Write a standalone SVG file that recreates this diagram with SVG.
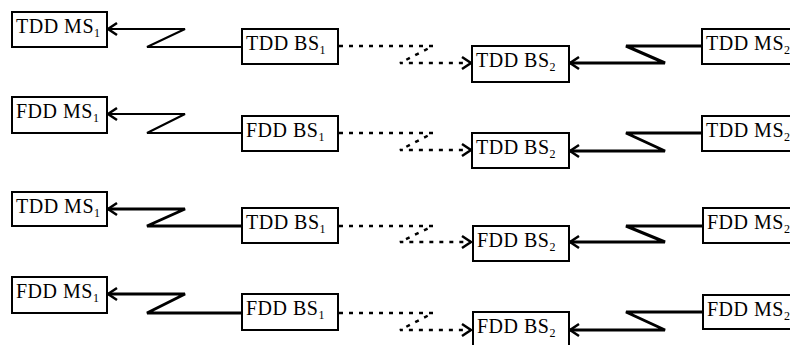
<svg xmlns="http://www.w3.org/2000/svg" width="790" height="345" viewBox="0 0 790 345">
<defs>
<marker id="arr" markerUnits="userSpaceOnUse" viewBox="-12 -8 14 16" refX="0" refY="0" markerWidth="14" markerHeight="16" orient="auto" overflow="visible">
<path d="M-9,-6 L0,0 L-9,6" fill="none" stroke="#000" stroke-width="2.5"/>
</marker>
</defs>
<style>
.box{fill:#fff;stroke:#000;stroke-width:2}
.t{font-family:"Liberation Serif","Times New Roman",serif;font-size:20px;letter-spacing:0.5px;fill:#000}
.s{font-size:12px}
.thin{fill:none;stroke:#000;stroke-width:2;marker-end:url(#arr)}
.thick{fill:none;stroke:#000;stroke-width:3;marker-end:url(#arr)}
.dot{fill:none;stroke:#000;stroke-width:2.5;stroke-dasharray:4 6;marker-end:url(#arr)}
</style>
<g id="connectors">
<path class="thin" d="M242,47 L147,47 L185,29 L108,29"/>
<path class="dot" d="M339,46 L433,46 L400,63 L471,63"/>
<path class="thick" d="M702,46 L626,46 L665,63 L570,63"/>
<path class="thin" d="M242,133 L147,133 L185,114 L108,114"/>
<path class="dot" d="M339,133 L433,133 L400,150 L471,150"/>
<path class="thick" d="M702,133 L626,133 L665,151 L570,151"/>
<path class="thick" d="M242,226 L147,226 L185,209 L108,209"/>
<path class="dot" d="M339,226 L433,226 L400,242 L471,242"/>
<path class="thick" d="M703,226 L626,226 L665,242 L570,242"/>
<path class="thick" d="M242,313 L147,313 L185,294 L108,294"/>
<path class="dot" d="M339,313 L433,313 L400,330 L471,330"/>
<path class="thick" d="M703,312 L626,312 L665,330 L570,330"/>
</g>
<g id="r1-ms1"><rect class="box" x="12" y="12" width="95" height="35"/><text class="t" x="16" y="33">TDD MS<tspan class="s" dy="4">1</tspan></text></g>
<g id="r1-bs1"><rect class="box" x="242" y="29" width="96" height="35"/><text class="t" x="246" y="50">TDD BS<tspan class="s" dy="4">1</tspan></text></g>
<g id="r1-bs2"><rect class="box" x="472" y="46" width="97" height="36"/><text class="t" x="476" y="67">TDD BS<tspan class="s" dy="4">2</tspan></text></g>
<g id="r1-ms2"><rect class="box" x="702" y="29" width="96" height="35"/><text class="t" x="706" y="50">TDD MS<tspan class="s" dy="4">2</tspan></text></g>

<g id="r2-ms1"><rect class="box" x="12" y="97" width="95" height="36"/><text class="t" x="16" y="118">FDD MS<tspan class="s" dy="4">1</tspan></text></g>
<g id="r2-bs1"><rect class="box" x="242" y="116" width="96" height="35"/><text class="t" x="246" y="137">FDD BS<tspan class="s" dy="4">1</tspan></text></g>
<g id="r2-bs2"><rect class="box" x="472" y="133" width="97" height="35"/><text class="t" x="476" y="154">TDD BS<tspan class="s" dy="4">2</tspan></text></g>
<g id="r2-ms2"><rect class="box" x="702" y="116" width="96" height="35"/><text class="t" x="706" y="137">TDD MS<tspan class="s" dy="4">2</tspan></text></g>

<g id="r3-ms1"><rect class="box" x="12" y="192" width="95" height="34"/><text class="t" x="16" y="213">TDD MS<tspan class="s" dy="4">1</tspan></text></g>
<g id="r3-bs1"><rect class="box" x="242" y="208" width="96" height="35"/><text class="t" x="246" y="229">TDD BS<tspan class="s" dy="4">1</tspan></text></g>
<g id="r3-bs2"><rect class="box" x="473" y="226" width="96" height="35"/><text class="t" x="477" y="247">FDD BS<tspan class="s" dy="4">2</tspan></text></g>
<g id="r3-ms2"><rect class="box" x="703" y="208" width="96" height="35"/><text class="t" x="707" y="229">FDD MS<tspan class="s" dy="4">2</tspan></text></g>

<g id="r4-ms1"><rect class="box" x="12" y="277" width="95" height="36"/><text class="t" x="16" y="298">FDD MS<tspan class="s" dy="4">1</tspan></text></g>
<g id="r4-bs1"><rect class="box" x="242" y="294" width="96" height="36"/><text class="t" x="246" y="315">FDD BS<tspan class="s" dy="4">1</tspan></text></g>
<g id="r4-bs2"><rect class="box" x="473" y="312" width="96" height="36"/><text class="t" x="477" y="333">FDD BS<tspan class="s" dy="4">2</tspan></text></g>
<g id="r4-ms2"><rect class="box" x="703" y="295" width="96" height="34"/><text class="t" x="707" y="316">FDD MS<tspan class="s" dy="4">2</tspan></text></g>
</svg>
